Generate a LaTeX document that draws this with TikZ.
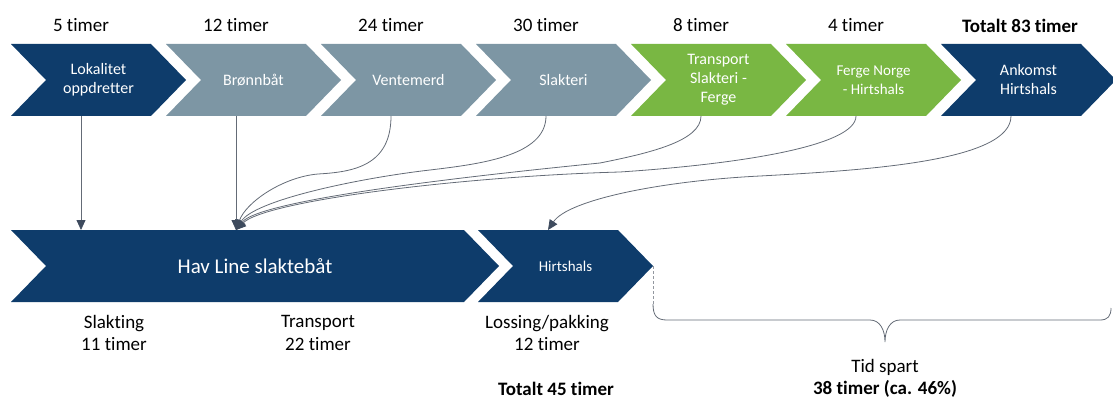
\documentclass[tikz,border=0pt]{standalone}
\usepackage{fontspec}
\setmainfont{Carlito}[RawFeature=-liga]
\usetikzlibrary{arrows.meta,calc}
\definecolor{navy}{HTML}{0E3C6B}
\definecolor{slate}{HTML}{7D96A4}
\definecolor{leaf}{HTML}{79B743}
\definecolor{wire}{HTML}{646B76}
\definecolor{tipc}{HTML}{3E4B5E}
\newcommand\mychev[5]{% name, left x, centre y, body width, colour
  \node[body, minimum width=#4] (#1) at (#2+#4/2,#3) {};
  \fill[#5] (#1.north west) -- (#1.north east) -- ++(35,36) -- (#1.south east)
     -- (#1.south west) -- ++(35,-36) -- cycle;
}
\begin{document}
\begin{tikzpicture}[x=1pt,y=-1pt,
  body/.style={minimum height=72pt, inner sep=0pt, outer sep=0pt},
  ctext/.style={text=white, align=center, font=\fontsize{16}{19}\selectfont, inner sep=0pt},
  toplbl/.style={font=\fontsize{19}{22}\selectfont, inner sep=0pt},
  botlbl/.style={font=\fontsize{19}{22.5}\selectfont, align=center, inner sep=0pt},
  boldlbl/.style={font=\fontsize{19}{22}\selectfont\bfseries, inner sep=0pt},
  conn/.style={draw=wire, line width=0.8pt, -{Triangle[length=10pt,width=9pt,color=tipc]}},
  brace/.style={draw=wire, line width=0.8pt}
]
\useasboundingbox (0,0) rectangle (1113,401);
\clip (0,0) rectangle (1113,401);

% top row
\mychev{c1}{11}{80}{140}{navy}
\mychev{c2}{166}{80}{140}{slate}
\mychev{c3}{321}{80}{140}{slate}
\mychev{c4}{476}{80}{140}{slate}
\mychev{c5}{631}{80}{140}{leaf}
\mychev{c6}{786}{80}{140}{leaf}
\mychev{c7}{941}{80}{140}{navy}

\node[ctext] (c1t) at ($(c1)+(17.5,0)$) {Lokalitet\\oppdretter};
\node[ctext] (c2t) at ($(c2)+(17.5,0)$) {Brønnbåt};
\node[ctext] (c3t) at ($(c3)+(17.5,0)$) {Ventemerd};
\node[ctext] (c4t) at ($(c4)+(17.5,0)$) {Slakteri};
\node[ctext] (c5t) at ($(c5)+(17.5,0)$) {Transport\\Slakteri -\\Ferge};
\node[ctext, font=\fontsize{15}{19}\selectfont] (c6t) at ($(c6)+(17.5,0)$) {Ferge Norge\\- Hirtshals};
\node[ctext] (c7t) at ($(c7)+(17.5,0)$) {Ankomst\\Hirtshals};

\node[toplbl] (l1) at (c1 |- 0,25) {5 timer};
\node[toplbl] (l2) at (c2 |- 0,25) {12 timer};
\node[toplbl] (l3) at (c3 |- 0,25) {24 timer};
\node[toplbl] (l4) at (c4 |- 0,25) {30 timer};
\node[toplbl] (l5) at (c5 |- 0,25) {8 timer};
\node[toplbl] (l6) at (c6 |- 0,25) {4 timer};
\node[boldlbl] (l7) at ($(c7 |- 0,26)+(9,0)$) {Totalt 83 timer};

% bottom row
\mychev{hav}{11}{266}{453}{navy}
\mychev{hir}{478}{266}{140}{navy}
\node[ctext, font=\fontsize{21}{24}\selectfont] (havt) at ($(hav)+(17.5,0)$) {Hav Line slaktebåt};
\node[ctext, font=\fontsize{15}{18}\selectfont] (hirt) at ($(hir)+(17.5,0)$) {Hirtshals};

\node[botlbl] (b1) at (114,333) {Slakting\\11 timer};
\node[botlbl] (b2) at (318,333) {Transport\\22 timer};
\node[botlbl] (b3) at (547,333) {Lossing/pakking\\12 timer};
\node[boldlbl] (b4) at (556,389) {Totalt 45 timer};

% connectors
\coordinate (hin) at (c2.south |- hav.north);
\coordinate (w3) at (318,174);
\coordinate (w4) at (430,170);
\coordinate (w5) at (600,163);
\coordinate (w6) at (620,172);
\coordinate (w7) at (760,176);

\draw[conn] (c1.south) -- (c1.south |- hav.north);
\draw[conn] (c2.south) -- (hin);
\draw[conn] (c3.south) .. controls +(0,50) and +(35,-2) .. (w3)
   .. controls +(-35,3) and +(10,-28) .. (hin);
\draw[conn] (c4.south) .. controls +(0,40) and +(50,-6) .. (w4)
   .. controls +(-70,8) and +(18,-30) .. (hin);
\draw[conn] (c5.south) .. controls +(0,25) and +(50,-10) .. (w5)
   .. controls +(-100,10) and +(25,-32) .. (hin);
\draw[conn] (c6.south) .. controls +(0,30) and +(120,-8) .. (w6)
   .. controls +(-150,4) and +(30,-30) .. (hin);
\draw[conn] (c7.south) .. controls +(0,45) and +(110,-6) .. (w7)
   .. controls +(-100,5) and +(20,-30) .. (hir.north);

% time-saved brace
\coordinate (hirtip) at ($(hir.east)+(35,0)$);
\draw[brace, dash pattern=on 3pt off 2pt, draw=wire!70] (hirtip) -- ++(0,40);
\draw[brace] ($(hirtip)+(0,38)$) .. controls +(0,12) and +(-10,0) .. ++(14,16)
   -- (870,320) .. controls (880,320) and (885,330) .. (885,342)
   .. controls (885,330) and (890,320) .. (900,320)
   -- (1100,320) .. controls (1108,320) and (1111,316) .. (1111,308);
\node[botlbl] (ts1) at (885,367) {Tid spart};
\node[boldlbl] (ts2) at (885,389) {38 timer (ca. 46\%)};
\end{tikzpicture}
\end{document}
